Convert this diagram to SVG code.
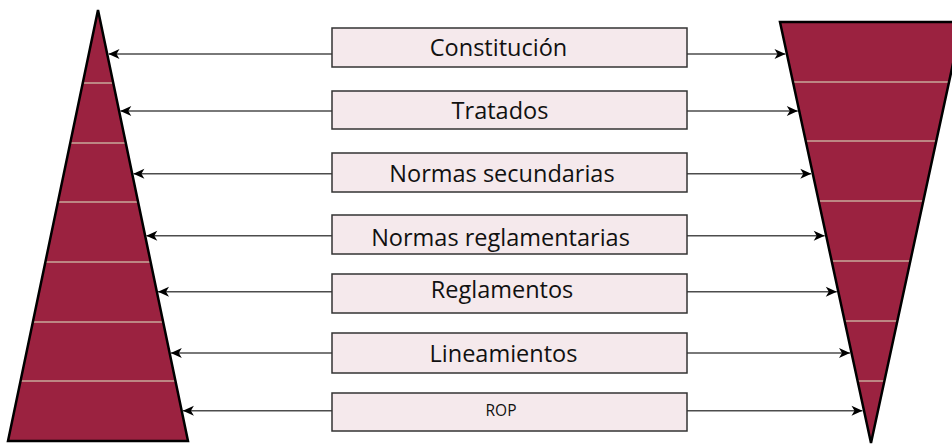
<svg xmlns="http://www.w3.org/2000/svg" width="952" height="445" viewBox="0 0 952 445">
<style>
.tri{fill:#9b2240;stroke:none}
.out{fill:none;stroke:#000;stroke-width:2.5;stroke-linejoin:miter}
.div{stroke:#c9a99a;stroke-width:1.5}
.box{fill:#f5e9ec;stroke:#333;stroke-width:1.5}
.lbl{font-family:"Open Sans","Noto Sans",sans-serif;font-size:23.5px;fill:#111;text-anchor:middle}
.sm{font-size:15.5px}
.con{stroke:#4d4d4d;stroke-width:1.5;fill:none;marker-end:url(#ah)}
</style>
<defs>
<marker id="ah" markerUnits="userSpaceOnUse" markerWidth="14" markerHeight="12" viewBox="-12 -6 13 12" refX="0" refY="0" orient="auto">
<path d="M0,0 L-11,-5 L-8,0 L-11,5 Z" fill="#000"/>
</marker>
<clipPath id="cl"><polygon points="98,10 188,441 8,441"/></clipPath>
<clipPath id="cr"><polygon points="780,22 962,22 871,443"/></clipPath>
</defs>
<rect width="952" height="445" fill="#fff"/>
<g id="left-pyramid">
<polygon class="tri" points="98,10 188,441 8,441"/>
<g clip-path="url(#cl)">
<line class="div" x1="0" y1="83" x2="200" y2="83"/>
<line class="div" x1="0" y1="143" x2="200" y2="143"/>
<line class="div" x1="0" y1="202" x2="200" y2="202"/>
<line class="div" x1="0" y1="262" x2="200" y2="262"/>
<line class="div" x1="0" y1="322" x2="200" y2="322"/>
<line class="div" x1="0" y1="381" x2="200" y2="381"/>
</g>
<polygon class="out" points="98,10 188,441 8,441"/>
</g>
<g id="right-pyramid">
<polygon class="tri" points="780,22 962,22 871,443"/>
<g clip-path="url(#cr)">
<line class="div" x1="770" y1="82" x2="970" y2="82"/>
<line class="div" x1="770" y1="141" x2="970" y2="141"/>
<line class="div" x1="770" y1="201" x2="970" y2="201"/>
<line class="div" x1="770" y1="261" x2="970" y2="261"/>
<line class="div" x1="770" y1="321" x2="970" y2="321"/>
<line class="div" x1="770" y1="381" x2="970" y2="381"/>
</g>
<polygon class="out" points="780,22 962,22 871,443"/>
</g>
<g id="connectors">
<line class="con" x1="332" y1="54" x2="108.5" y2="54"/>
<line class="con" x1="332" y1="111" x2="120.3" y2="111"/>
<line class="con" x1="332" y1="173.7" x2="133.4" y2="173.7"/>
<line class="con" x1="332" y1="235.7" x2="146.3" y2="235.7"/>
<line class="con" x1="332" y1="291.7" x2="158" y2="291.7"/>
<line class="con" x1="332" y1="353" x2="170.8" y2="353"/>
<line class="con" x1="332" y1="410.7" x2="182.9" y2="410.7"/>
<line class="con" x1="687" y1="54" x2="785.5" y2="54"/>
<line class="con" x1="687" y1="111" x2="797.8" y2="111"/>
<line class="con" x1="687" y1="173.7" x2="811.3" y2="173.7"/>
<line class="con" x1="687" y1="235.7" x2="824.7" y2="235.7"/>
<line class="con" x1="687" y1="291.7" x2="836.8" y2="291.7"/>
<line class="con" x1="687" y1="353" x2="850" y2="353"/>
<line class="con" x1="687" y1="410.7" x2="862.5" y2="410.7"/>
</g>
<g id="n1"><rect class="box" x="332" y="28" width="355" height="39"/><text class="lbl" x="498.5" y="56">Constitución</text></g>
<g id="n2"><rect class="box" x="332" y="91" width="355" height="38"/><text class="lbl" x="500" y="119">Tratados</text></g>
<g id="n3"><rect class="box" x="332" y="153" width="355" height="39"/><text class="lbl" x="502" y="181.5">Normas secundarias</text></g>
<g id="n4"><rect class="box" x="332" y="215" width="355" height="39"/><text class="lbl" x="500.5" y="245.5">Normas reglamentarias</text></g>
<g id="n5"><rect class="box" x="332" y="274" width="355" height="39"/><text class="lbl" x="502" y="298">Reglamentos</text></g>
<g id="n6"><rect class="box" x="332" y="333" width="355" height="40"/><text class="lbl" x="503.5" y="361.5">Lineamientos</text></g>
<g id="n7"><rect class="box" x="332" y="393" width="355" height="38"/><text class="lbl sm" x="501" y="416">ROP</text></g>
</svg>
